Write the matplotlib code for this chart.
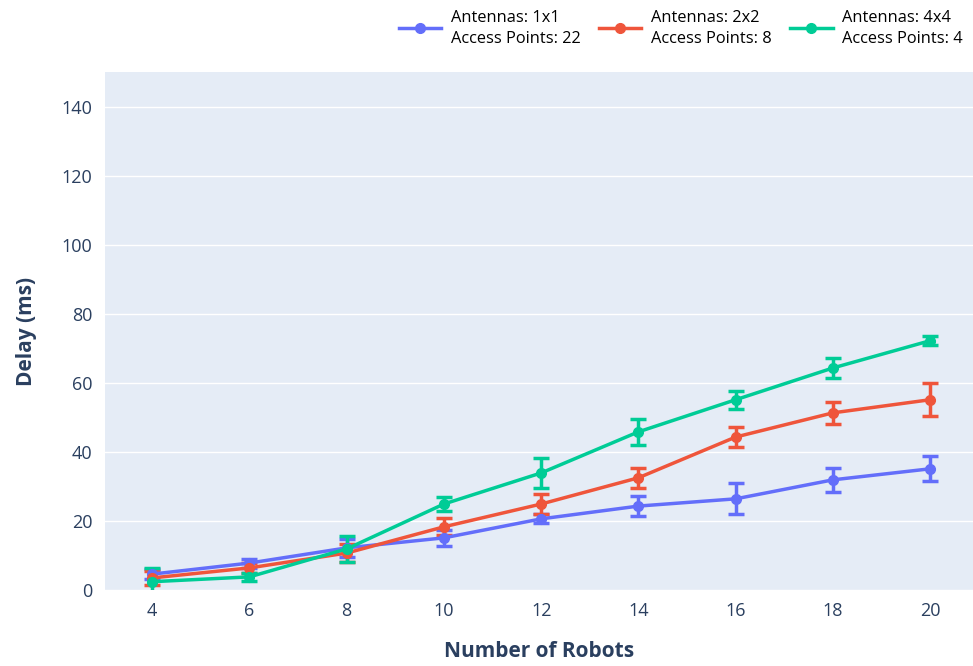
import matplotlib
matplotlib.use("Agg")
import matplotlib.pyplot as plt
from matplotlib.lines import Line2D

robots = [4, 6, 8, 10, 12, 14, 16, 18, 20]
labels = ["Antennas: 1x1\nAccess Points: 22",
          "Antennas: 2x2\nAccess Points: 8",
          "Antennas: 4x4\nAccess Points: 4"]
delay_1x1 = [4.6, 7.8, 12.2, 15.1, 20.6, 24.3, 26.4, 31.9, 35.1]
err_1x1 = [1.5, 1.3, 2.5, 2.4, 1.3, 2.8, 4.5, 3.5, 3.6]
delay_2x2 = [3.5, 6.4, 10.7, 18.3, 24.9, 32.5, 44.3, 51.3, 55.1]
err_2x2 = [2.0, 1.5, 2.5, 2.5, 2.8, 2.9, 3.0, 3.2, 4.8]
delay_4x4 = [2.4, 3.8, 11.9, 24.9, 33.9, 45.8, 55.1, 64.3, 72.2]
err_4x4 = [4.0, 1.2, 3.8, 2.0, 4.3, 3.8, 2.6, 2.9, 1.3]
colors = ["#636efa", "#EF553B", "#00cc96"]

plt.rcParams['font.family'] = ['Open Sans', 'DejaVu Sans']
txt = "#2a3f5f"

fig = plt.figure(figsize=(9.73, 6.66), dpi=100)
ax = fig.add_axes([105/973, 76/666, 868/973, 518/666])
ax.set_facecolor("#E5ECF6")

series = [(delay_1x1, err_1x1), (delay_2x2, err_2x2), (delay_4x4, err_4x4)]
handles = []
for (d, e), c, lab in zip(series, colors, labels):
    ax.errorbar(robots, d, yerr=e, color=c, lw=2.5, marker='o', ms=7,
                capsize=6, capthick=2.5, elinewidth=2.5, label=lab)
    handles.append(Line2D([], [], color=c, lw=2.5, marker='o', ms=7))

ax.set_xlim(3.03, 20.88)
ax.set_ylim(0, 150)
ax.set_xticks(robots)
ax.set_yticks([0, 20, 40, 60, 80, 100, 120, 140])
ax.grid(axis='y', color='white', lw=1)
ax.set_axisbelow(True)
for s in ax.spines.values():
    s.set_visible(False)
ax.tick_params(length=0, labelsize=13, colors=txt, pad=9)
ax.set_xlabel("Number of Robots", fontsize=15, fontweight='bold', color=txt, labelpad=15)
ax.set_ylabel("Delay (ms)", fontsize=15, fontweight='bold', color=txt, labelpad=18)

leg = fig.legend(handles=handles, labels=labels, loc='upper right',
                 bbox_to_anchor=(1.0, 1.0), ncol=3, frameon=False,
                 fontsize=11.8, handlelength=2.6, columnspacing=1.1,
                 handletextpad=0.6, borderaxespad=0.2)
for t in leg.get_texts():
    t.set_color("black")
    t.set_linespacing(1.4)
fig.savefig("out.png", dpi=100)
